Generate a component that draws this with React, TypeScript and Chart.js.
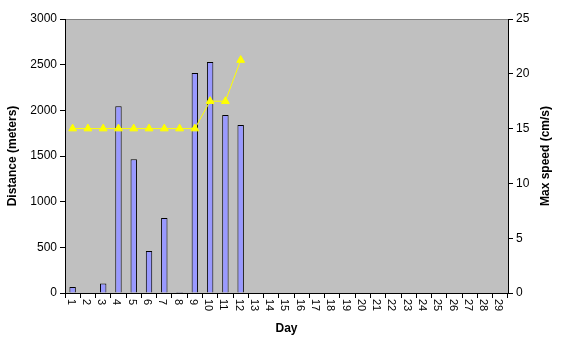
import React, { useEffect, useRef } from "react";
import { Chart, registerables } from "chart.js";

Chart.register(...registerables);

const days: string[] = Array.from({ length: 29 }, (_, i) => String(i + 1));
const distance: (number | null)[] = [65, 0, 105, 2045, 1465, 460, 820, 10, 2410, 2530, 1950, 1840];
const maxSpeed: (number | null)[] = [15, 15, 15, 15, 15, 15, 15, 15, 15, 17.5, 17.5, 21.25];
const leftTicks = [0, 500, 1000, 1500, 2000, 2500, 3000];
const rightTicks = [0, 5, 10, 15, 20, 25];
const rightTitle = "Max speed (cm/s)";

const FONT = "'Liberation Sans', Arial, sans-serif";

const bgPlugin = {
  id: "bgPlugin",
  beforeDraw(chart: any) {
    const { ctx, chartArea } = chart;
    ctx.save();
    ctx.fillStyle = "#ffffff";
    ctx.fillRect(0, 0, chart.width, chart.height);
    ctx.fillStyle = "#C0C0C0";
    ctx.fillRect(chartArea.left, chartArea.top, chartArea.right - chartArea.left, chartArea.bottom - chartArea.top);
    ctx.strokeStyle = "#808080";
    ctx.lineWidth = 1;
    ctx.beginPath();
    ctx.moveTo(chartArea.left, chartArea.top + 0.5);
    ctx.lineTo(chartArea.right, chartArea.top + 0.5);
    ctx.stroke();
    ctx.restore();
  },
  afterDraw(chart: any) {
    const { ctx, chartArea } = chart;
    const xs = chart.scales.x;
    ctx.save();
    ctx.fillStyle = "#000";
    ctx.font = `11px ${FONT}`;
    ctx.textAlign = "left";
    ctx.textBaseline = "middle";
    days.forEach((d, i) => {
      const x = xs.getPixelForValue(i) - 2;
      ctx.save();
      ctx.translate(x, xs.top + 6);
      ctx.rotate(Math.PI / 2);
      ctx.fillText(d, 0, 0);
      ctx.restore();
    });
    // right axis title, reading bottom to top
    ctx.font = `bold 12px ${FONT}`;
    ctx.textAlign = "center";
    ctx.save();
    ctx.translate(chart.scales.y1.right - 22, (chartArea.top + chartArea.bottom) / 2);
    ctx.rotate(-Math.PI / 2);
    ctx.fillText(rightTitle, 0, 0);
    ctx.restore();
    ctx.restore();
  },
};

export default function App() {
  const ref = useRef<HTMLCanvasElement | null>(null);
  useEffect(() => {
    document.body.style.margin = "0";
    const chart = new Chart(ref.current!, {
      type: "bar",
      data: {
        labels: days,
        datasets: [
          {
            type: "bar",
            label: "Distance",
            data: distance,
            backgroundColor: "#9999FF",
            borderColor: "#000000",
            borderWidth: 1,
            barPercentage: 0.42,
            categoryPercentage: 1,
            yAxisID: "y",
            order: 2,
          },
          {
            type: "line",
            label: "Max speed",
            data: maxSpeed,
            borderColor: "#FFFF00",
            backgroundColor: "#FFFF00",
            borderWidth: 1,
            pointStyle: "triangle",
            pointRadius: 4.5,
            pointBorderWidth: 1,
            pointBorderColor: "#FFFF00",
            pointBackgroundColor: "#FFFF00",
            fill: false,
            tension: 0,
            yAxisID: "y1",
            order: 1,
          } as any,
        ],
      },
      options: {
        animation: false,
        responsive: false,
        maintainAspectRatio: false,
        layout: { padding: { top: 19, left: 0, right: 0, bottom: 0 } },
        plugins: { legend: { display: false }, tooltip: { enabled: false } },
        scales: {
          x: {
            offset: true,
            grid: { display: true, offset: true, drawOnChartArea: false, drawTicks: true, tickLength: 5, color: "#000" },
            border: { display: true, color: "#000" },
            ticks: { display: false },
            title: { display: true, text: "Day", color: "#000", font: { family: FONT, size: 12, weight: "bold" }, padding: { top: 0, bottom: 11 } },
            afterFit(scale: any) { scale.height = 54; },
          },
          y: {
            position: "left",
            min: 0,
            max: 3000,
            afterBuildTicks(scale: any) { scale.ticks = leftTicks.map((v) => ({ value: v })); },
            grid: { display: true, drawOnChartArea: false, drawTicks: true, tickLength: 5, color: "#000" },
            border: { display: true, color: "#000" },
            ticks: { color: "#000", font: { family: FONT, size: 12 }, padding: 3, callback: (v: any) => String(v) },
            title: { display: true, text: "Distance (meters)", color: "#000", font: { family: FONT, size: 12, weight: "bold" }, padding: { top: 5, bottom: 0 } },
            afterFit(scale: any) { scale.width = 65; },
          },
          y1: {
            position: "right",
            min: 0,
            max: 25,
            afterBuildTicks(scale: any) { scale.ticks = rightTicks.map((v) => ({ value: v })); },
            grid: { display: true, drawOnChartArea: false, drawTicks: true, tickLength: 5, color: "#000" },
            border: { display: true, color: "#000" },
            ticks: { color: "#000", font: { family: FONT, size: 12 }, padding: 3, callback: (v: any) => String(v) },
            title: { display: false },
            afterFit(scale: any) { scale.width = 60; },
          },
        },
      },
      plugins: [bgPlugin],
    });
    return () => chart.destroy();
  }, []);
  return (
    <div style={{ width: 568, height: 347 }}>
      <canvas ref={ref} width={568} height={347} style={{ display: "block" }} />
    </div>
  );
}
